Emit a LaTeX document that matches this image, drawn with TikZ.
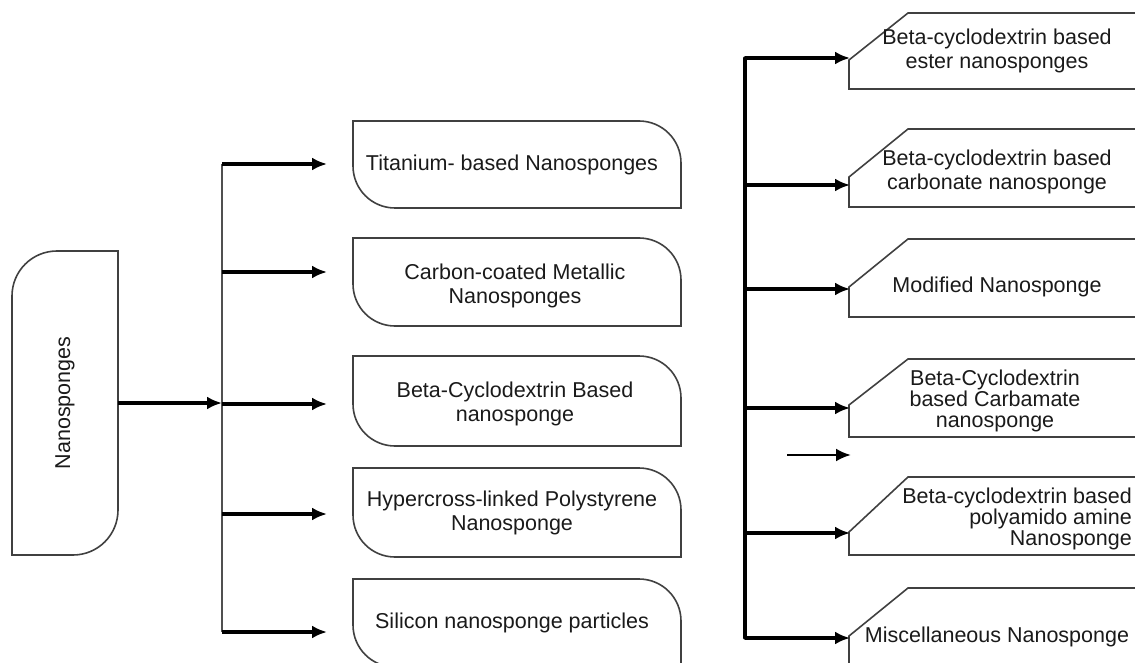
\documentclass[tikz,border=0pt]{standalone}
\usepackage{fontspec}
\setmainfont{Liberation Sans}
\usetikzlibrary{arrows.meta}
\definecolor{boxgray}{HTML}{404040}
\definecolor{txt}{HTML}{1A1A1A}
\definecolor{trunkgray}{HTML}{505050}
% middle box: top, bottom (rounded top-right and bottom-left corners)
\newcommand{\MyMidBox}[2]{%
  \draw[box] (353,#1) -- (639,#1) .. controls (662.2,#1) and (681,#1+18.8) .. (681,#1+42)
    -- (681,#2) -- (395,#2) .. controls (371.8,#2) and (353,#2-18.8) .. (353,#2-42) -- cycle;}
% right box: top, chamfer end, bottom
\newcommand{\MyRightBox}[3]{%
  \draw[box] (1160,#1) -- (908,#1) -- (849,#2) -- (849,#3) -- (1160,#3);}
\begin{document}
\begin{tikzpicture}[x=1pt,y=-1pt,
  box/.style={draw=boxgray, line width=1.6pt},
  lbl/.style={text=txt, font=\fontsize{21.5}{24.5}\selectfont, align=center, inner sep=0pt},
  lbltight/.style={lbl, font=\fontsize{21.5}{21.2}\selectfont},
  arr/.style={draw=black, line width=3.4pt, -{Latex[length=15pt,width=13pt]}},
  trunkL/.style={draw=trunkgray, line width=2.2pt},
  trunkR/.style={draw=black, line width=3.4pt, line cap=round, line join=round}]
\useasboundingbox (0,0) rectangle (1135,663);
\begin{scope}
\clip (0,0) rectangle (1135,663);
% left root box
\draw[box] (57,251) -- (118,251) -- (118,510) .. controls (118,534.9) and (97.9,555) .. (73,555)
  -- (12,555) -- (12,296) .. controls (12,271.1) and (32.1,251) .. (57,251) -- cycle;
% middle boxes
\MyMidBox{121}{208}
\MyMidBox{238}{326}
\MyMidBox{356}{446}
\MyMidBox{468}{557}
\MyMidBox{579}{667}
% right boxes
\MyRightBox{13}{60}{89}
\MyRightBox{129}{177}{207}
\MyRightBox{239}{287}{317}
\MyRightBox{359}{405}{437}
\MyRightBox{477}{532}{555}
\MyRightBox{588}{636}{700}
\end{scope}

% texts
\node[lbl, rotate=90] (ns) at (65,403) {Nanosponges};
\node[lbl] (ti) at (512,165) {Titanium- based Nanosponges};
\node[lbl] (cc) at (515,286) {Carbon-coated Metallic\\Nanosponges};
\node[lbl] (bc) at (515,404) {Beta-Cyclodextrin Based\\nanosponge};
\node[lbl] (hp) at (512,513) {Hypercross-linked Polystyrene\\Nanosponge};
\node[lbl] (si) at (512,623) {Silicon nanosponge particles};

\node[lbl] (es) at (997,51) {Beta-cyclodextrin based\\ester nanosponges};
\node[lbl] (cb) at (997,172) {Beta-cyclodextrin based\\carbonate nanosponge};
\node[lbl] (md) at (997,287) {Modified Nanosponge};
\node[lbltight] (cm) at (995,401) {Beta-Cyclodextrin\\based Carbamate\\nanosponge};
\node[lbltight, align=right, anchor=east] (pa) at (1132,519) {Beta-cyclodextrin based\\polyamido amine\\Nanosponge};
\node[lbl] (mi) at (997,637) {Miscellaneous Nanosponge};

% coordinates
\coordinate (nsE) at (118,403);
\coordinate (LJ) at (222,403);
\coordinate (L1) at (222,164);
\coordinate (L2) at (222,272);
\coordinate (L3) at (222,404);
\coordinate (L4) at (222,514);
\coordinate (L5) at (222,632);
\coordinate (tiA) at (327,164);
\coordinate (ccA) at (327,272);
\coordinate (bcA) at (327,404);
\coordinate (hpA) at (327,514);
\coordinate (siA) at (327,632);

\coordinate (R1) at (745,58);
\coordinate (R2) at (745,185);
\coordinate (R3) at (745,289);
\coordinate (R4) at (745,408);
\coordinate (R5) at (745,533);
\coordinate (R6) at (745,638);
\coordinate (esA) at (850,58);
\coordinate (cbA) at (850,185);
\coordinate (mdA) at (850,289);
\coordinate (cmA) at (850,408);
\coordinate (paA) at (850,533);
\coordinate (miA) at (850,638);
\coordinate (sS) at (787,455);
\coordinate (sE) at (851,455);

% left connectors
\draw[arr] (nsE) -- (LJ);
\draw[trunkL] (L1) -- (L5);
\draw[arr] (L1) -- (tiA);
\draw[arr] (L2) -- (ccA);
\draw[arr] (L3) -- (bcA);
\draw[arr] (L4) -- (hpA);
\draw[arr] (L5) -- (siA);

% right connectors
\draw[trunkR] (R1) -- (R6);
\draw[arr] (R1) -- (esA);
\draw[arr] (R2) -- (cbA);
\draw[arr] (R3) -- (mdA);
\draw[arr] (R4) -- (cmA);
\draw[arr] (R5) -- (paA);
\draw[arr] (R6) -- (miA);
\draw[arr, line width=2.6pt] (sS) -- (sE);
\end{tikzpicture}
\end{document}
